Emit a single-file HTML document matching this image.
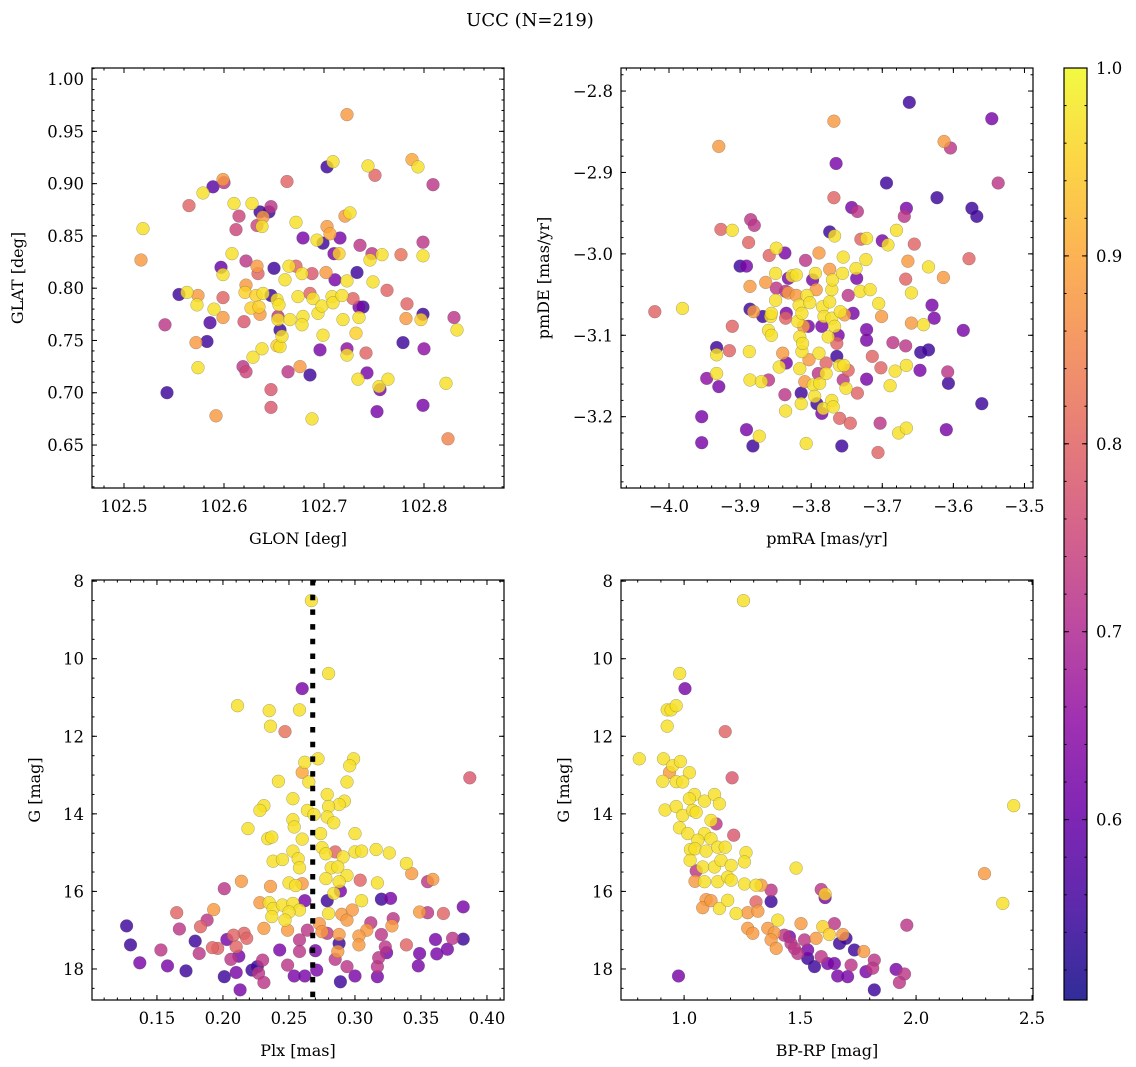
<!DOCTYPE html>
<html><head><meta charset="utf-8">
<style>
html,body{margin:0;padding:0;background:#fff;}
svg{display:block;font-family:"DejaVu Serif","Liberation Serif",serif;}
</style></head>
<body>
<svg id="fig" width="1136" height="1067" viewBox="0 0 1136 1067" xmlns="http://www.w3.org/2000/svg">
<defs>
<linearGradient id="plasmaGrad" x1="0" y1="1" x2="0" y2="0">
<stop offset="0" stop-color="#0d0887"/><stop offset="0.1" stop-color="#41049d"/><stop offset="0.2" stop-color="#6a00a8"/><stop offset="0.3" stop-color="#8f0da4"/><stop offset="0.4" stop-color="#b12a90"/><stop offset="0.5" stop-color="#cc4778"/><stop offset="0.6" stop-color="#e16462"/><stop offset="0.7" stop-color="#f2844b"/><stop offset="0.8" stop-color="#fca636"/><stop offset="0.9" stop-color="#fcce25"/><stop offset="1" stop-color="#f0f921"/>
</linearGradient>
</defs>
<text x="530" y="26" font-size="18" text-anchor="middle">UCC (N=219)</text>
</svg>
<script>
// ---------- Panel 1: GLON vs GLAT ----------
const p1_glon = [102.517,102.519,102.541,102.543,102.555,102.563,102.565,102.573,102.574,102.572,102.574,102.579,102.586,102.583,102.589,102.592,102.590,102.599,102.599,102.597,102.599,102.600,102.599,102.608,102.610,102.615,102.612,102.621,102.622,102.620,102.622,102.619,102.622,102.629,102.628,102.627,102.632,102.633,102.634,102.635,102.636,102.638,102.633,102.636,102.639,102.638,102.639,102.645,102.647,102.647,102.647,102.647,102.650,102.653,102.655,102.654,102.656,102.653,102.656,102.658,102.654,102.661,102.663,102.665,102.664,102.666,102.672,102.672,102.674,102.676,102.678,102.679,102.679,102.678,102.686,102.686,102.688,102.688,102.689,102.693,102.694,102.696,102.698,102.699,102.699,102.702,102.703,102.703,102.706,102.708,102.709,102.709,102.710,102.711,102.715,102.716,102.718,102.719,102.721,102.723,102.723,102.726,102.723,102.723,102.729,102.732,102.733,102.734,102.736,102.735,102.735,102.739,102.743,102.742,102.744,102.746,102.748,102.749,102.751,102.758,102.756,102.755,102.763,102.764,102.753,102.777,102.779,102.783,102.782,102.797,102.799,102.799,102.799,102.799,102.800,102.788,102.794,102.809,102.822,102.824,102.830,102.833];
const p1_glat = [0.827,0.857,0.765,0.700,0.794,0.796,0.879,0.784,0.793,0.748,0.724,0.891,0.767,0.749,0.897,0.678,0.780,0.772,0.791,0.820,0.904,0.901,0.813,0.833,0.881,0.869,0.856,0.796,0.803,0.768,0.826,0.725,0.720,0.734,0.881,0.781,0.793,0.821,0.814,0.782,0.775,0.742,0.860,0.873,0.868,0.859,0.795,0.873,0.878,0.703,0.686,0.793,0.819,0.789,0.784,0.770,0.760,0.745,0.744,0.754,0.773,0.808,0.902,0.821,0.720,0.770,0.821,0.863,0.792,0.725,0.814,0.848,0.773,0.765,0.795,0.717,0.675,0.814,0.790,0.846,0.776,0.741,0.783,0.843,0.755,0.815,0.859,0.916,0.852,0.792,0.921,0.786,0.833,0.808,0.833,0.848,0.793,0.770,0.869,0.742,0.736,0.872,0.966,0.807,0.790,0.757,0.815,0.713,0.841,0.772,0.782,0.782,0.719,0.738,0.917,0.827,0.833,0.806,0.908,0.832,0.703,0.706,0.798,0.713,0.682,0.832,0.748,0.785,0.771,0.770,0.775,0.844,0.831,0.688,0.742,0.923,0.916,0.899,0.709,0.656,0.772,0.760];
const p1_prob = [0.88,0.97,0.72,0.55,0.55,0.97,0.80,0.97,0.88,0.88,0.97,0.97,0.57,0.55,0.58,0.88,0.97,0.88,0.80,0.60,0.88,0.72,0.97,0.97,0.97,0.75,0.75,0.95,0.88,0.78,0.72,0.72,0.75,0.97,0.97,0.95,0.95,0.88,0.80,0.95,0.88,0.97,0.75,0.55,0.88,0.97,0.97,0.55,0.72,0.78,0.78,0.55,0.55,0.97,0.97,0.97,0.55,0.95,0.97,0.97,0.72,0.97,0.80,0.97,0.72,0.97,0.80,0.97,0.97,0.88,0.97,0.62,0.97,0.97,0.80,0.55,0.97,0.78,0.97,0.97,0.97,0.62,0.97,0.55,0.97,0.88,0.88,0.55,0.90,0.97,0.97,0.97,0.62,0.62,0.95,0.62,0.97,0.97,0.88,0.65,0.97,0.97,0.88,0.97,0.80,0.95,0.55,0.97,0.72,0.97,0.62,0.55,0.62,0.80,0.97,0.97,0.72,0.97,0.80,0.97,0.62,0.97,0.80,0.97,0.62,0.82,0.55,0.80,0.88,0.95,0.55,0.72,0.97,0.62,0.65,0.90,0.97,0.72,0.97,0.85,0.72,0.97];
const p1_xticks = [102.5,102.6,102.7,102.8];
const p1_xtickLabels = ["102.5","102.6","102.7","102.8"];
const p1_yticks = [0.65,0.70,0.75,0.80,0.85,0.90,0.95,1.00];
const p1_ytickLabels = ["0.65","0.70","0.75","0.80","0.85","0.90","0.95","1.00"];

// ---------- Panel 2: pmRA vs pmDE ----------
const p2_pmra = [-4.020,-3.981,-3.954,-3.954,-3.947,-3.933,-3.933,-3.933,-3.930,-3.930,-3.927,-3.915,-3.911,-3.911,-3.900,-3.891,-3.888,-3.885,-3.880,-3.886,-3.886,-3.881,-3.891,-3.882,-3.887,-3.886,-3.873,-3.870,-3.868,-3.864,-3.860,-3.859,-3.860,-3.856,-3.857,-3.856,-3.849,-3.850,-3.850,-3.849,-3.845,-3.837,-3.836,-3.836,-3.835,-3.835,-3.837,-3.840,-3.836,-3.832,-3.832,-3.827,-3.821,-3.821,-3.819,-3.817,-3.816,-3.816,-3.814,-3.814,-3.813,-3.813,-3.812,-3.811,-3.807,-3.809,-3.808,-3.806,-3.804,-3.803,-3.802,-3.798,-3.797,-3.795,-3.794,-3.793,-3.792,-3.790,-3.789,-3.788,-3.785,-3.784,-3.789,-3.785,-3.783,-3.782,-3.779,-3.779,-3.776,-3.774,-3.774,-3.771,-3.771,-3.771,-3.770,-3.774,-3.769,-3.768,-3.768,-3.767,-3.767,-3.765,-3.764,-3.764,-3.762,-3.760,-3.760,-3.759,-3.757,-3.756,-3.755,-3.755,-3.754,-3.753,-3.751,-3.748,-3.748,-3.745,-3.743,-3.741,-3.737,-3.736,-3.735,-3.735,-3.731,-3.730,-3.722,-3.723,-3.722,-3.722,-3.722,-3.717,-3.714,-3.706,-3.703,-3.702,-3.705,-3.701,-3.700,-3.694,-3.692,-3.689,-3.685,-3.682,-3.680,-3.677,-3.669,-3.667,-3.667,-3.666,-3.666,-3.666,-3.664,-3.662,-3.659,-3.659,-3.655,-3.647,-3.646,-3.642,-3.635,-3.635,-3.630,-3.627,-3.623,-3.614,-3.613,-3.608,-3.610,-3.607,-3.604,-3.586,-3.578,-3.574,-3.567,-3.560,-3.546,-3.537];
const p2_pmde = [-3.071,-3.067,-3.200,-3.232,-3.153,-3.115,-3.124,-3.147,-3.163,-2.868,-2.970,-3.119,-3.089,-2.971,-3.015,-3.015,-2.986,-2.958,-2.965,-3.040,-3.068,-3.071,-3.216,-3.236,-3.120,-3.155,-3.224,-3.157,-3.077,-3.035,-3.155,-3.002,-3.094,-3.100,-3.077,-3.073,-2.993,-3.024,-3.057,-3.042,-3.139,-2.999,-3.046,-3.079,-3.073,-3.134,-3.173,-3.122,-3.193,-3.030,-3.048,-3.027,-3.026,-3.051,-3.083,-3.063,-3.102,-3.141,-3.171,-3.184,-3.120,-3.073,-3.110,-3.089,-3.233,-3.157,-3.008,-3.051,-3.089,-3.130,-3.060,-3.032,-3.161,-3.175,-3.024,-3.044,-3.184,-3.147,-3.122,-3.159,-3.089,-3.065,-2.999,-3.196,-3.190,-3.077,-3.134,-3.147,-3.102,-3.019,-3.059,-3.079,-3.044,-3.180,-3.032,-2.973,-3.188,-2.931,-2.837,-2.978,-3.089,-2.889,-3.126,-3.110,-3.100,-3.202,-3.137,-3.071,-3.236,-3.024,-3.004,-3.155,-3.137,-3.075,-3.165,-3.051,-3.143,-3.208,-2.943,-3.073,-3.018,-3.030,-3.171,-2.948,-3.046,-2.982,-2.981,-3.007,-3.093,-3.106,-3.154,-3.044,-3.126,-3.244,-3.208,-3.140,-3.061,-3.077,-2.984,-2.913,-2.989,-3.162,-3.109,-3.144,-2.971,-3.220,-2.954,-3.113,-3.031,-2.944,-3.137,-3.214,-3.009,-2.814,-3.048,-3.085,-2.988,-3.143,-3.121,-3.087,-3.118,-3.016,-3.063,-3.079,-2.931,-3.029,-2.862,-3.145,-3.216,-3.159,-2.870,-3.094,-3.006,-2.944,-2.954,-3.184,-2.834,-2.913];
const p2_prob = [0.80,0.97,0.62,0.62,0.65,0.55,0.97,0.97,0.62,0.88,0.80,0.80,0.80,0.97,0.55,0.62,0.80,0.72,0.72,0.88,0.55,0.88,0.62,0.55,0.97,0.97,0.97,0.97,0.55,0.88,0.72,0.80,0.97,0.97,0.97,0.97,0.97,0.97,0.97,0.72,0.97,0.62,0.72,0.80,0.62,0.62,0.72,0.88,0.97,0.62,0.88,0.97,0.97,0.88,0.97,0.97,0.97,0.97,0.55,0.97,0.97,0.97,0.97,0.88,0.97,0.88,0.72,0.97,0.62,0.88,0.97,0.62,0.97,0.97,0.97,0.88,0.55,0.72,0.97,0.97,0.62,0.97,0.88,0.62,0.97,0.97,0.80,0.97,0.97,0.88,0.97,0.97,0.97,0.97,0.97,0.55,0.97,0.80,0.88,0.97,0.97,0.62,0.55,0.80,0.62,0.80,0.97,0.97,0.55,0.97,0.97,0.72,0.97,0.88,0.97,0.72,0.80,0.80,0.62,0.62,0.97,0.62,0.80,0.72,0.97,0.80,0.97,0.97,0.62,0.62,0.62,0.97,0.80,0.80,0.72,0.80,0.97,0.88,0.62,0.55,0.97,0.97,0.72,0.97,0.97,0.97,0.72,0.72,0.80,0.62,0.97,0.97,0.88,0.55,0.97,0.88,0.80,0.62,0.55,0.97,0.55,0.97,0.62,0.62,0.55,0.88,0.88,0.72,0.62,0.55,0.72,0.62,0.80,0.55,0.55,0.55,0.62,0.72];
const p2_xticks = [-4.0,-3.9,-3.8,-3.7,-3.6,-3.5];
const p2_xtickLabels = ["\u22124.0","\u22123.9","\u22123.8","\u22123.7","\u22123.6","\u22123.5"];
const p2_yticks = [-3.2,-3.1,-3.0,-2.9,-2.8];
const p2_ytickLabels = ["\u22123.2","\u22123.1","\u22123.0","\u22122.9","\u22122.8"];

// ---------- Panel 3: Plx vs G ----------
const p3_plx = [0.267,0.280,0.260,0.211,0.235,0.258,0.236,0.247,0.387,0.262,0.272,0.299,0.296,0.260,0.265,0.242,0.294,0.253,0.279,0.292,0.288,0.280,0.231,0.228,0.264,0.269,0.279,0.253,0.254,0.284,0.219,0.274,0.260,0.234,0.237,0.300,0.275,0.253,0.238,0.245,0.278,0.285,0.291,0.300,0.305,0.316,0.326,0.339,0.257,0.258,0.282,0.287,0.343,0.294,0.278,0.359,0.355,0.304,0.317,0.214,0.201,0.236,0.250,0.255,0.260,0.288,0.289,0.284,0.320,0.327,0.305,0.279,0.262,0.228,0.235,0.238,0.245,0.253,0.258,0.250,0.165,0.193,0.237,0.247,0.280,0.290,0.294,0.298,0.349,0.355,0.367,0.382,0.329,0.328,0.312,0.309,0.303,0.303,0.288,0.288,0.287,0.285,0.273,0.275,0.279,0.264,0.258,0.258,0.249,0.243,0.231,0.230,0.216,0.218,0.208,0.203,0.210,0.212,0.206,0.196,0.192,0.182,0.179,0.183,0.188,0.167,0.153,0.137,0.130,0.127,0.158,0.172,0.201,0.210,0.213,0.222,0.226,0.227,0.231,0.249,0.254,0.262,0.270,0.271,0.289,0.294,0.300,0.317,0.317,0.318,0.320,0.323,0.324,0.339,0.348,0.349,0.361,0.362,0.370,0.374,0.382];
const p3_g = [8.50,10.38,10.77,11.21,11.34,11.32,11.74,11.88,13.07,12.67,12.58,12.58,12.76,12.93,13.18,13.16,13.18,13.61,13.50,13.67,13.76,13.81,13.79,13.91,13.91,14.02,14.08,14.15,14.34,14.23,14.38,14.51,14.65,14.64,14.60,14.51,14.87,14.96,15.22,15.18,15.03,14.98,15.11,14.98,14.96,14.92,15.01,15.28,15.16,15.39,15.39,15.37,15.54,15.59,15.67,15.69,15.75,15.71,15.78,15.74,15.93,15.87,15.78,15.85,15.80,15.75,15.99,16.05,16.20,16.18,16.24,16.24,16.24,16.29,16.29,16.44,16.35,16.31,16.48,16.53,16.55,16.47,16.65,16.74,16.57,16.59,16.74,16.48,16.53,16.55,16.57,16.40,16.70,16.89,16.81,17.00,17.15,17.38,17.11,17.34,17.55,17.75,16.83,17.04,17.08,17.00,17.25,17.55,17.00,17.51,16.95,17.77,17.08,17.21,17.13,17.24,17.43,17.67,17.75,17.47,17.45,17.60,17.28,16.91,16.74,16.97,17.51,17.84,17.38,16.89,17.92,18.05,18.20,18.09,18.54,18.03,17.94,18.11,18.35,17.90,18.18,18.18,17.53,18.03,18.33,17.94,18.18,18.20,17.94,17.71,17.11,17.43,17.58,17.38,17.92,17.60,17.24,17.61,17.49,17.21,17.23];
const p3_prob = [0.97,0.97,0.62,0.97,0.97,0.97,0.97,0.82,0.78,0.97,0.97,0.97,0.97,0.90,0.97,0.97,0.97,0.97,0.97,0.97,0.97,0.97,0.97,0.97,0.97,0.97,0.97,0.97,0.97,0.97,0.97,0.97,0.97,0.97,0.97,0.97,0.97,0.97,0.97,0.97,0.97,0.80,0.97,0.97,0.97,0.97,0.97,0.97,0.97,0.97,0.97,0.97,0.88,0.97,0.97,0.88,0.72,0.80,0.97,0.88,0.72,0.88,0.97,0.97,0.88,0.97,0.62,0.97,0.55,0.62,0.97,0.55,0.62,0.88,0.97,0.97,0.97,0.97,0.97,0.97,0.80,0.88,0.97,0.97,0.97,0.88,0.88,0.88,0.88,0.72,0.80,0.62,0.72,0.88,0.72,0.88,0.88,0.88,0.88,0.55,0.88,0.72,0.88,0.88,0.72,0.72,0.72,0.72,0.88,0.62,0.88,0.72,0.80,0.80,0.80,0.62,0.80,0.62,0.72,0.80,0.80,0.72,0.55,0.80,0.72,0.72,0.72,0.62,0.55,0.55,0.62,0.55,0.55,0.62,0.62,0.55,0.55,0.72,0.72,0.72,0.62,0.62,0.62,0.62,0.55,0.72,0.62,0.62,0.72,0.72,0.72,0.72,0.62,0.80,0.62,0.62,0.62,0.62,0.62,0.72,0.55];
const p3_xticks = [0.15,0.20,0.25,0.30,0.35,0.40];
const p3_xtickLabels = ["0.15","0.20","0.25","0.30","0.35","0.40"];
const p3_yticks = [8,10,12,14,16,18];
const p3_ytickLabels = ["8","10","12","14","16","18"];
const p3_plxRef = [0.268];

// ---------- Panel 4: BP-RP vs G ----------
const p4_bprp = [1.256,0.981,1.004,0.927,0.944,0.966,0.927,1.177,0.807,0.911,0.951,0.984,0.937,1.023,0.908,0.966,0.994,1.207,1.045,1.023,1.088,1.131,1.152,0.918,0.966,0.994,1.037,1.052,1.116,1.138,0.980,1.016,1.088,1.214,1.059,1.116,1.027,1.047,1.095,1.145,1.177,1.267,1.026,1.080,1.131,1.159,1.203,1.260,1.483,1.052,1.047,1.088,1.145,1.188,1.203,1.260,1.310,1.332,1.375,1.375,1.591,1.608,1.608,1.095,1.080,1.116,1.152,1.188,1.224,1.274,1.318,1.310,1.404,1.274,1.361,1.296,1.389,1.375,1.397,1.432,1.454,1.461,1.504,1.519,1.533,1.569,1.598,1.562,1.626,1.648,1.684,1.670,1.698,1.734,1.774,1.648,1.662,1.705,1.720,1.784,1.820,1.813,1.820,1.914,1.950,1.928,1.960,0.976,2.295,2.374,2.421,1.490,1.533,1.591,1.619,1.476];
const p4_g = [8.50,10.38,10.77,11.32,11.32,11.21,11.74,11.88,12.58,12.58,12.76,12.65,12.93,12.94,13.16,13.17,13.18,13.07,13.50,13.61,13.67,13.50,13.74,13.90,13.81,14.04,13.91,13.96,14.17,14.26,14.36,14.51,14.51,14.55,14.68,14.64,14.92,14.90,14.96,14.86,14.86,15.00,15.20,15.37,15.37,15.20,15.33,15.24,15.40,15.47,15.74,15.75,15.75,15.63,15.71,15.81,15.84,15.84,15.97,16.26,15.95,16.07,16.16,16.21,16.42,16.24,16.44,16.23,16.57,16.55,16.51,16.27,16.74,16.95,16.95,17.08,17.07,17.25,17.47,17.13,17.17,17.34,16.83,17.25,17.51,17.21,16.91,17.94,17.11,16.83,17.11,17.34,17.21,17.51,17.55,17.86,18.18,18.20,17.90,18.07,17.77,17.98,18.54,18.01,18.13,18.35,16.87,18.18,15.54,16.31,13.79,17.60,17.73,17.68,17.86,17.47];
const p4_prob = [0.97,0.97,0.62,0.97,0.97,0.97,0.97,0.80,0.97,0.97,0.97,0.97,0.88,0.97,0.97,0.97,0.97,0.78,0.97,0.97,0.97,0.97,0.97,0.97,0.97,0.97,0.97,0.97,0.97,0.72,0.97,0.97,0.97,0.78,0.97,0.97,0.97,0.97,0.97,0.97,0.97,0.97,0.97,0.97,0.97,0.97,0.97,0.97,0.97,0.72,0.88,0.97,0.97,0.97,0.97,0.97,0.97,0.88,0.72,0.55,0.72,0.95,0.62,0.88,0.88,0.88,0.97,0.97,0.97,0.88,0.88,0.80,0.97,0.88,0.88,0.88,0.88,0.88,0.88,0.72,0.62,0.72,0.88,0.72,0.62,0.88,0.95,0.55,0.95,0.72,0.88,0.55,0.55,0.55,0.88,0.62,0.62,0.62,0.72,0.62,0.72,0.72,0.55,0.62,0.72,0.72,0.72,0.62,0.88,0.97,0.97,0.72,0.55,0.72,0.62,0.72];
const p4_xticks = [1.0,1.5,2.0,2.5];
const p4_xtickLabels = ["1.0","1.5","2.0","2.5"];
const p4_yticks = [8,10,12,14,16,18];
const p4_ytickLabels = ["8","10","12","14","16","18"];

// ---------- Colorbar ----------
const cb_ticks = [0.6,0.7,0.8,0.9,1.0];
const cb_tickLabels = ["0.6","0.7","0.8","0.9","1.0"];
const cb_range = [0.504,1.0];

const NS = "http://www.w3.org/2000/svg";
const svg = document.getElementById("fig");
function mk(tag, attrs, parent){
  const e = document.createElementNS(NS, tag);
  for (const k in attrs) e.setAttribute(k, attrs[k]);
  (parent||svg).appendChild(e);
  return e;
}
const plasma = [[13,8,135],[65,4,157],[106,0,168],[143,13,164],[177,42,144],[204,71,120],[225,100,98],[242,132,75],[252,166,54],[252,206,37],[240,249,33]];
function cmap(v){
  let t = (v - cb_range[0])/(cb_range[1]-cb_range[0]);
  t = Math.max(0, Math.min(1, t));
  const s = t*10, i = Math.min(9, Math.floor(s)), f = s - i;
  const a = plasma[i], b = plasma[i+1];
  return "rgb(" + [0,1,2].map(k=>Math.round(a[k]+(b[k]-a[k])*f)).join(",") + ")";
}
const TFS = 16.5;

function drawPanel(cfg){
  const g = mk("g", {});
  
  
  const X = v => cfg.x0 + (v - cfg.xd[0])/(cfg.xd[1]-cfg.xd[0])*(cfg.x1-cfg.x0);
  const Y = v => cfg.y1 - (v - cfg.yd[0])/(cfg.yd[1]-cfg.yd[0])*(cfg.y1-cfg.y0);
  const cid = cfg.name + "-clip";
  const cp = mk("clipPath", {id: cid}, g);
  mk("rect", {x: cfg.x0, y: cfg.y0, width: cfg.x1-cfg.x0, height: cfg.y1-cfg.y0}, cp);
  const marks = mk("g", {"clip-path": "url(#"+cid+")"}, g);
  
  
  const idx = cfg.xs.map((_, i) => i).sort((a, b) => cfg.ps[a] - cfg.ps[b]);
  idx.forEach(i => {
    const c = mk("circle", {cx: X(cfg.xs[i]).toFixed(1), cy: Y(cfg.ys[i]).toFixed(1), r: 6.4, fill: cmap(cfg.ps[i]), "fill-opacity": 0.82, stroke: "#555", "stroke-opacity": 0.5, "stroke-width": 0.5}, marks);
    
    
  });
  if (cfg.vline){
    cfg.vline.forEach(v => {
      const l = mk("line", {x1: X(v), x2: X(v), y1: cfg.y0, y2: cfg.y1, stroke: "#000", "stroke-width": 5, "stroke-dasharray": "5.5 9.2"}, marks);
      
      
    });
  }
  const fr = mk("rect", {x: cfg.x0, y: cfg.y0, width: cfg.x1-cfg.x0, height: cfg.y1-cfg.y0, fill: "none", stroke: "#000", "stroke-width": 1.2}, g);
  
  
  const tk = mk("g", {stroke: "#000", "stroke-width": 1}, g);
  
  
  const eps = 1e-9;
  for (let v = Math.ceil(cfg.xd[0]/cfg.xminor - eps)*cfg.xminor; v <= cfg.xd[1]+eps; v += cfg.xminor){
    const x = X(v);
    mk("line", {x1: x, x2: x, y1: cfg.y1, y2: cfg.y1-2.5}, tk);
    mk("line", {x1: x, x2: x, y1: cfg.y0, y2: cfg.y0+2.5}, tk);
  }
  for (let v = Math.ceil(cfg.yd[0]/cfg.yminor - eps)*cfg.yminor; v <= cfg.yd[1]+eps; v += cfg.yminor){
    const y = Y(v);
    mk("line", {x1: cfg.x0, x2: cfg.x0+2.5, y1: y, y2: y}, tk);
    mk("line", {x1: cfg.x1, x2: cfg.x1-2.5, y1: y, y2: y}, tk);
  }
  cfg.xt.forEach((v, i) => {
    const x = X(v);
    mk("line", {x1: x, x2: x, y1: cfg.y1, y2: cfg.y1-5}, tk);
    mk("line", {x1: x, x2: x, y1: cfg.y0, y2: cfg.y0+5}, tk);
    const t = mk("text", {x: x, y: cfg.y1+24, "font-size": TFS, "text-anchor": "middle"}, g);
    t.textContent = cfg.xtl[i];
    
    
  });
  cfg.yt.forEach((v, i) => {
    const y = Y(v);
    mk("line", {x1: cfg.x0, x2: cfg.x0+5, y1: y, y2: y}, tk);
    mk("line", {x1: cfg.x1, x2: cfg.x1-5, y1: y, y2: y}, tk);
    const t = mk("text", {x: cfg.x0-8, y: y+6, "font-size": TFS, "text-anchor": "end"}, g);
    t.textContent = cfg.ytl[i];
    
    
  });
  const xl = mk("text", {x: (cfg.x0+cfg.x1)/2, y: cfg.y1+56, "font-size": 16, "text-anchor": "middle"}, g);
  xl.textContent = cfg.xlabel;
  
  
  const yl = mk("text", {x: 0, y: 0, "font-size": 16, "text-anchor": "middle", transform: "translate(" + cfg.ylx + "," + (cfg.y0+cfg.y1)/2 + ") rotate(-90)"}, g);
  yl.textContent = cfg.ylabel;
  
  
}

drawPanel({name: "glon-glat-panel", x0: 92, x1: 504, y0: 68, y1: 488, xd: [102.468, 102.880], yd: [0.6089, 1.0106],
  xs: p1_glon, ys: p1_glat, ps: p1_prob, xt: p1_xticks, xtl: p1_xtickLabels, yt: p1_yticks, ytl: p1_ytickLabels,
  xminor: 0.02, yminor: 0.01, xlabel: "GLON [deg]", ylabel: "GLAT [deg]", ylx: 23});
drawPanel({name: "pm-panel", x0: 621, x1: 1033, y0: 68, y1: 488, xd: [-4.0675, -3.488], yd: [-3.2876, -2.7717],
  xs: p2_pmra, ys: p2_pmde, ps: p2_prob, xt: p2_xticks, xtl: p2_xtickLabels, yt: p2_yticks, ytl: p2_ytickLabels,
  xminor: 0.02, yminor: 0.02, xlabel: "pmRA [mas/yr]", ylabel: "pmDE [mas/yr]", ylx: 549});
drawPanel({name: "plx-g-panel", x0: 92, x1: 504, y0: 580, y1: 1000, xd: [0.1008, 0.4129], yd: [-18.8, -7.97],
  xs: p3_plx, ys: p3_g.map(v => -v), ps: p3_prob, xt: p3_xticks, xtl: p3_xtickLabels, yt: p3_yticks.map(v => -v), ytl: p3_ytickLabels,
  xminor: 0.01, yminor: 0.5, xlabel: "Plx [mas]", ylabel: "G [mag]", ylx: 40, vline: p3_plxRef});
drawPanel({name: "cmd-panel", x0: 621, x1: 1033, y0: 580, y1: 1000, xd: [0.728, 2.504], yd: [-18.8, -7.97],
  xs: p4_bprp, ys: p4_g.map(v => -v), ps: p4_prob, xt: p4_xticks, xtl: p4_xtickLabels, yt: p4_yticks.map(v => -v), ytl: p4_ytickLabels,
  xminor: 0.1, yminor: 0.5, xlabel: "BP-RP [mag]", ylabel: "G [mag]", ylx: 569});

(function(){
  const x0 = 1064, x1 = 1087, y0 = 68, y1 = 1000;
  const Y = v => y1 - (v - cb_range[0])/(cb_range[1]-cb_range[0])*(y1-y0);
  const g = mk("g", {});
  
  
  mk("rect", {x: x0, y: y0, width: x1-x0, height: y1-y0, fill: "url(#plasmaGrad)", "fill-opacity": 0.85}, g);
  mk("rect", {x: x0, y: y0, width: x1-x0, height: y1-y0, fill: "none", stroke: "#000", "stroke-width": 1.2}, g);
  for (let v = 0.52; v <= 1.0001; v += 0.02){
    const y = Y(v);
    mk("line", {x1: x1, x2: x1-2.5, y1: y, y2: y, stroke: "#000"}, g);
    mk("line", {x1: x0, x2: x0+2.5, y1: y, y2: y, stroke: "#000"}, g);
  }
  cb_ticks.forEach((v, i) => {
    const y = Y(v);
    mk("line", {x1: x1, x2: x1-5, y1: y, y2: y, stroke: "#000"}, g);
    mk("line", {x1: x0, x2: x0+5, y1: y, y2: y, stroke: "#000"}, g);
    const t = mk("text", {x: x1+9, y: y+6, "font-size": TFS}, g);
    t.textContent = cb_tickLabels[i];
    
    
  });
})();
</script>
</body></html>
